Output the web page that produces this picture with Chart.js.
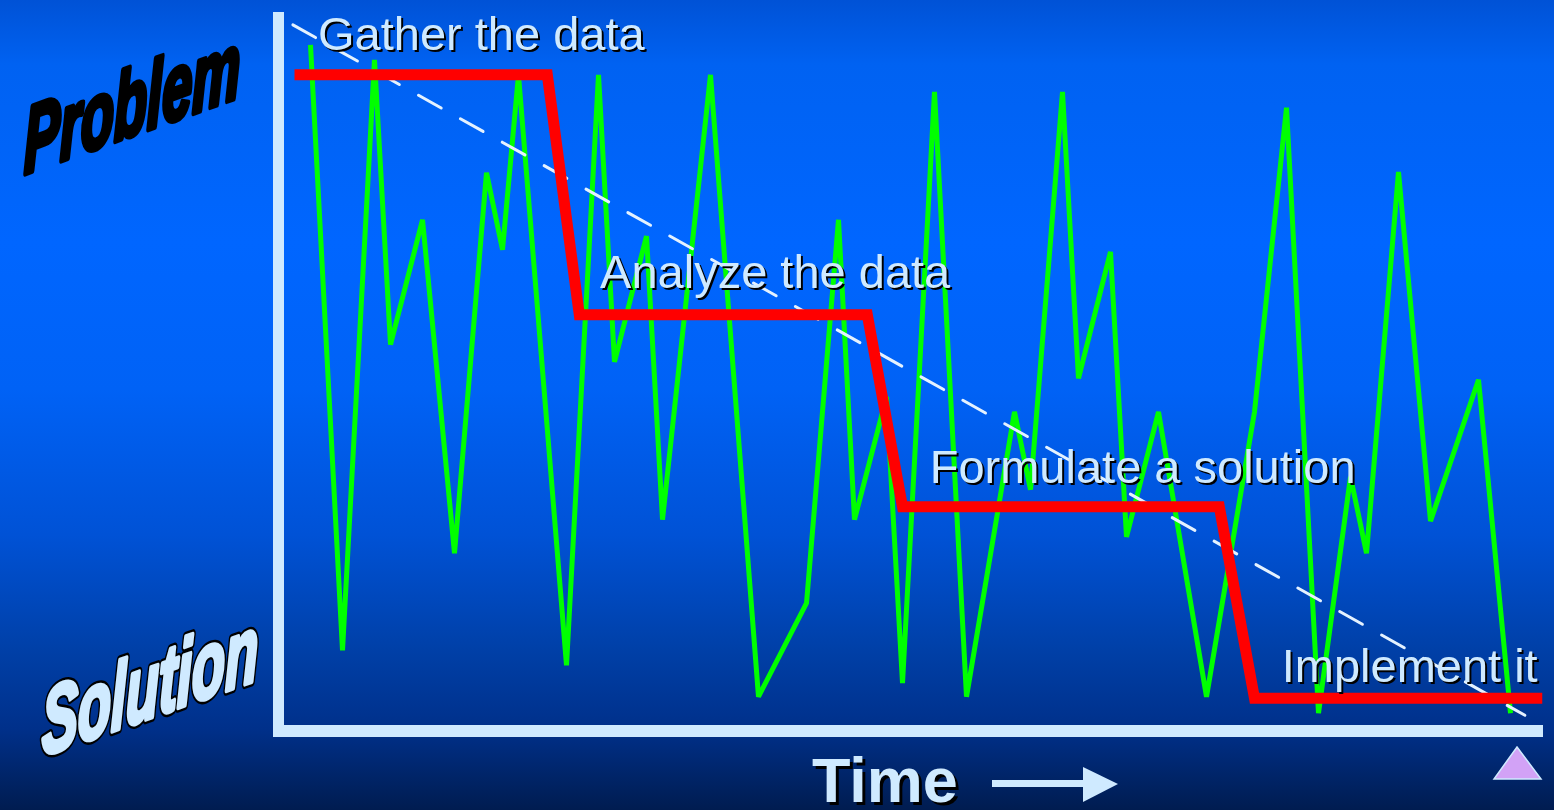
<!DOCTYPE html>
<html>
<head>
<meta charset="utf-8">
<title>Problem to Solution over Time</title>
<script src="https://cdn.jsdelivr.net/npm/chart.js@4/dist/chart.umd.min.js"></script>
<style>
  html, body { margin: 0; padding: 0; width: 1554px; height: 810px; overflow: hidden; }
  body {
    background: linear-gradient(to bottom,
      #0052d6 0%, #0062f2 8%, #0066ff 30%, #0062f6 48%,
      #0052d6 66%, #0040a8 80%, #00308a 90%, #001c50 100%);
  }
  #wrap { position: relative; width: 1554px; height: 810px; }
</style>
</head>
<body>
<div id="wrap"><canvas id="chart" width="1554" height="810"></canvas></div>
<script>
// Time runs along x (in time steps), progress from solution (0) to problem (100) along y.

// Day-to-day state: a jagged path that keeps swinging between problem and solution
const dailyTime  = [0, 2, 4, 5, 7, 9, 11, 12, 13, 16, 18, 19, 21, 22, 25, 28, 31, 33, 34, 36,
                    37, 39, 41, 44, 45, 47, 48, 50, 51, 53, 56, 59, 61, 63, 65, 66, 68, 70, 73, 75];
const dailyLevel = [96.1, 11.3, 94.0, 54.1, 71.6, 24.9, 78.2, 67.4, 91.9, 9.2,
                    91.9, 51.7, 69.3, 29.6, 91.9, 4.8, 17.9, 71.6, 29.6, 46.8,
                    6.7, 89.5, 4.8, 44.7, 33.8, 89.5, 49.4, 67.1, 27.2, 44.7,
                    4.8, 44.7, 87.3, 2.5, 35.6, 24.9, 78.3, 29.4, 49.2, 2.5];

// The four-stage method: a staircase from problem down to solution
const stageTime  = [-1, 14.8, 16.8, 34.8, 37.0, 56.8, 59.0, 77.0];
const stageLevel = [91.9, 91.9, 58.3, 58.3, 31.4, 31.4, 4.6, 4.6];

// Straight-line trend from problem to solution
const trendTime  = [-1.1, 75.9];
const trendLevel = [98.9, 2.2];

// Stage captions and where they sit (time, level of the text baseline)
const stageNames  = ['Gather the data', 'Analyze the data', 'Formulate a solution', 'Implement it'];
const stageNameX  = [0.47, 18.1, 38.7, 60.7];
const stageNameY  = [95.4, 62.0, 34.7, 6.9];

const toPoints = (xs, ys) => xs.map((x, i) => ({ x: x, y: ys[i] }));

const LIGHT = '#cfeaff';

// Captions on top of the lines
const stageCaptions = {
  id: 'stageCaptions',
  afterDatasetsDraw(chart) {
    const { ctx, scales } = chart;
    ctx.save();
    ctx.font = '47px "Liberation Sans", Arial, sans-serif';
    ctx.textBaseline = 'alphabetic';
    ctx.textAlign = 'left';
    stageNames.forEach((name, i) => {
      const x = scales.x.getPixelForValue(stageNameX[i]);
      const y = scales.y.getPixelForValue(stageNameY[i]);
      ctx.fillStyle = '#000000';
      ctx.fillText(name, x + 2, y + 2);
      ctx.fillStyle = LIGHT;
      ctx.fillText(name, x, y);
    });
    ctx.restore();
  }
};

// Slanted end labels of the vertical axis, the time label with its arrow, and the corner marker
const axisDecor = {
  id: 'axisDecor',
  afterDraw(chart) {
    const ctx = chart.ctx;
    ctx.save();

    // "Problem" – heavy black slanted lettering
    ctx.save();
    ctx.setTransform(0.575, -0.36 * 0.575, 0, 1, 24, 174);
    ctx.font = 'italic bold 94px "Liberation Sans", Arial, sans-serif';
    ctx.textBaseline = 'alphabetic';
    ctx.lineJoin = 'round';
    ctx.fillStyle = '#000000';
    ctx.strokeStyle = '#000000';
    ctx.lineWidth = 6;
    ctx.strokeText('Problem', 0, 0);
    ctx.fillText('Problem', 0, 0);
    ctx.restore();

    // "Solution" – light outlined slanted lettering
    ctx.save();
    ctx.setTransform(0.575, -0.355 * 0.575, 0, 1, 42, 756);
    ctx.font = 'italic bold 94px "Liberation Sans", Arial, sans-serif';
    ctx.textBaseline = 'alphabetic';
    ctx.lineJoin = 'round';
    ctx.strokeStyle = '#000000';
    ctx.lineWidth = 10;
    ctx.strokeText('Solution', 0, 0);
    ctx.strokeStyle = LIGHT;
    ctx.lineWidth = 5;
    ctx.strokeText('Solution', 0, 0);
    ctx.fillStyle = LIGHT;
    ctx.fillText('Solution', 0, 0);
    ctx.restore();

    // "Time" with drop shadow
    ctx.font = 'bold 63px "Liberation Sans", Arial, sans-serif';
    ctx.textBaseline = 'alphabetic';
    ctx.fillStyle = '#000000';
    ctx.fillText('Time', 815, 805);
    ctx.fillStyle = LIGHT;
    ctx.fillText('Time', 812, 802);

    // Arrow pointing along the time axis
    ctx.fillStyle = LIGHT;
    ctx.fillRect(992, 780, 94, 7);
    ctx.beginPath();
    ctx.moveTo(1083, 767);
    ctx.lineTo(1118, 784);
    ctx.lineTo(1083, 802);
    ctx.closePath();
    ctx.fill();

    // Corner marker
    ctx.beginPath();
    ctx.moveTo(1517, 747);
    ctx.lineTo(1541, 779);
    ctx.lineTo(1494, 779);
    ctx.closePath();
    ctx.fillStyle = '#d2a2f6';
    ctx.fill();
    ctx.lineWidth = 1.5;
    ctx.strokeStyle = LIGHT;
    ctx.stroke();

    ctx.restore();
  }
};

new Chart(document.getElementById('chart'), {
  type: 'line',
  data: {
    datasets: [
      {
        label: 'Method',
        data: toPoints(stageTime, stageLevel),
        borderColor: '#ff0000',
        borderWidth: 11,
        borderJoinStyle: 'miter',
        borderCapStyle: 'butt',
        pointRadius: 0,
        tension: 0,
        fill: false
      },
      {
        label: 'Trend',
        data: toPoints(trendTime, trendLevel),
        borderColor: '#e4f2ff',
        borderWidth: 3,
        borderDash: [26, 22],
        borderCapStyle: 'round',
        pointRadius: 0,
        tension: 0,
        fill: false
      },
      {
        label: 'Day to day',
        data: toPoints(dailyTime, dailyLevel),
        borderColor: '#00ff00',
        borderWidth: 5,
        borderJoinStyle: 'bevel',
        borderCapStyle: 'butt',
        pointRadius: 0,
        tension: 0,
        fill: false
      }
    ]
  },
  options: {
    responsive: false,
    animation: false,
    events: [],
    layout: { padding: { left: 278.5, right: 11.5, top: 17, bottom: 79 } },
    plugins: {
      legend: { display: false },
      tooltip: { enabled: false },
      title: { display: false }
    },
    scales: {
      x: {
        type: 'linear',
        min: -2,
        max: 77,
        grid: { display: false, drawTicks: false, tickLength: 0 },
        ticks: { display: false, padding: 0 },
        border: { display: true, color: LIGHT, width: 12 }
      },
      y: {
        type: 'linear',
        min: 0,
        max: 100,
        grid: { display: false, drawTicks: false, tickLength: 0 },
        ticks: { display: false, padding: 0 },
        border: { display: true, color: LIGHT, width: 11 }
      }
    }
  },
  plugins: [stageCaptions, axisDecor]
});
</script>
</body>
</html>
